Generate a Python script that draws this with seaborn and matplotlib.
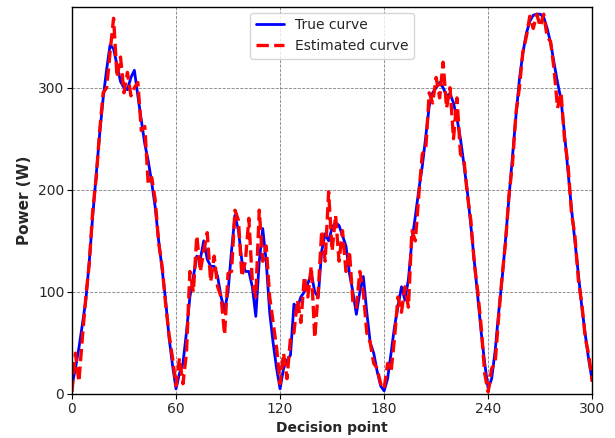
import numpy as np
import pandas as pd
import matplotlib
matplotlib.use("Agg")
import matplotlib.pyplot as plt
import seaborn as sns

# pontos de decisão (passo 2)
decision_points = np.arange(0, 301, 2)

true_curve = [
    8, 25, 45, 68, 92, 130, 175, 215, 255, 290,
    318, 342, 338, 322, 306, 300, 298, 310, 317, 292,
    268, 245, 228, 207, 183, 150, 122, 92, 55, 28,
    5, 20, 30, 60, 95, 115, 135, 132, 150, 132,
    125, 125, 115, 95, 82, 100, 140, 175, 160, 130,
    120, 120, 105, 76, 130, 162, 130, 80, 50, 25,
    5, 25, 33, 38, 88, 85, 95, 100, 108, 118,
    100, 95, 140, 157, 150, 163, 168, 165, 155, 145,
    118, 100, 78, 100, 115, 80, 50, 40, 22, 8,
    3, 15, 40, 66, 86, 105, 92, 112, 150, 174,
    200, 223, 252, 282, 295, 300, 305, 300, 292, 294,
    285, 270, 250, 225, 198, 165, 130, 95, 60, 30,
    5, 15, 42, 79, 112, 151, 193, 233, 272, 308,
    334, 353, 365, 371, 372, 372, 369, 358, 344, 324,
    305, 288, 255, 218, 182, 150, 118, 85, 58, 33,
    13,
]

# curva estimada
estimated_curve = [
    2, 40, 12, 55, 95, 128, 180, 212, 258, 295,
    300, 335, 368, 310, 330, 295, 315, 292, 300, 305,
    258, 262, 205, 212, 190, 148, 125, 88, 58, 35,
    8, 35, 10, 40, 120, 100, 155, 120, 140, 158,
    110, 135, 105, 95, 58, 118, 120, 180, 170, 115,
    130, 172, 110, 95, 180, 130, 145, 95, 70, 45,
    10, 40, 15, 55, 60, 92, 70, 115, 95, 125,
    55, 100, 160, 130, 198, 140, 175, 130, 160, 120,
    140, 90, 85, 120, 100, 60, 50, 30, 25, 10,
    5, 30, 22, 55, 95, 80, 105, 85, 160, 150,
    195, 235, 240, 295, 285, 310, 290, 325, 280, 300,
    250, 290, 235, 230, 195, 170, 128, 100, 65, 20,
    2, 25, 30, 75, 115, 148, 195, 225, 275, 300,
    335, 350, 370, 358, 372, 360, 372, 350, 345, 318,
    280, 295, 250, 225, 178, 155, 112, 88, 55, 38,
    12,
]

df = pd.DataFrame({
    "Decision point": decision_points,
    "True curve": true_curve,
    "Estimated curve": estimated_curve,
})

sns.set_style("white")
plt.rcParams["font.family"] = ["DejaVu Sans"]

fig = plt.figure(figsize=(6.15, 4.38), dpi=100)
ax = fig.add_axes([0.117, 0.1005, 0.846, 0.8835])

sns.lineplot(data=df, x="Decision point", y="True curve", ax=ax,
             color="blue", linewidth=2.0, label="True curve")
sns.lineplot(data=df, x="Decision point", y="Estimated curve", ax=ax,
             color="red", linewidth=2.4, linestyle="--", label="Estimated curve")

ax.set_xlim(0, 300)
ax.set_ylim(0, 379)
ax.set_xticks([0, 60, 120, 180, 240, 300])
ax.set_yticks([0, 100, 200, 300])
ax.grid(True, color="gray", linestyle="--", linewidth=0.6)
ax.set_axisbelow(True)
ax.tick_params(axis="both", labelsize=10, direction="out", length=3.5, pad=2,
               bottom=True, left=True, color="black")
for s in ax.spines.values():
    s.set_color("black")
    s.set_linewidth(1.0)

ax.set_xlabel("Decision point", fontsize=10, fontweight="bold", labelpad=4)
ax.set_ylabel("Power (W)", fontsize=11, fontweight="bold", labelpad=4)
ax.legend(loc="upper center", fontsize=10, frameon=True, handlelength=2.0,
          borderaxespad=0.4)

fig.savefig("out.png", dpi=100)
